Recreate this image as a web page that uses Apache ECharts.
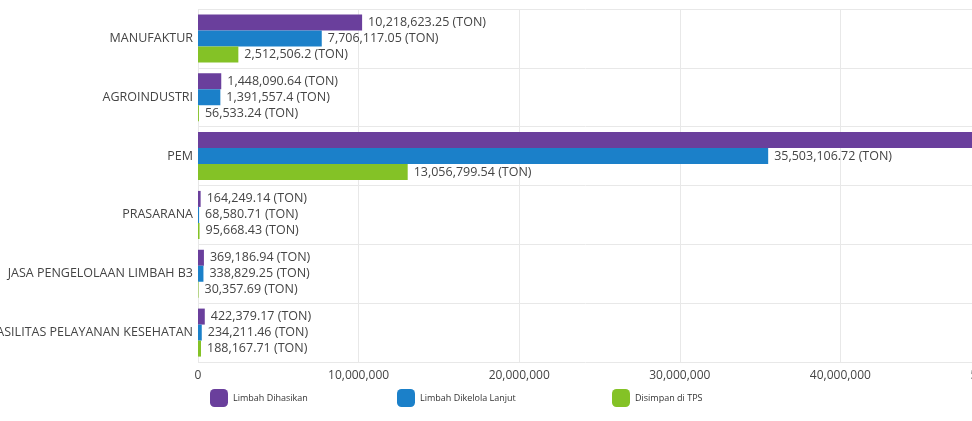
<!doctype html>
<html>
<head>
<meta charset="UTF-8">
<title>Limbah B3</title>
<script src="https://cdn.jsdelivr.net/npm/echarts@6/dist/echarts.min.js"></script>
<style>
  html, body { margin: 0; padding: 0; background: #fff; }
  #main { width: 972px; height: 421px; }
</style>
</head>
<body>
<div id="main"></div>
<script>
// data
var categories = ['MANUFAKTUR', 'AGROINDUSTRI', 'PEM', 'PRASARANA', 'JASA PENGELOLAAN LIMBAH B3', 'FASILITAS PELAYANAN KESEHATAN'];
var limbahDihasilkan = [10218623.25, 1448090.64, 48559906.26, 164249.14, 369186.94, 422379.17];
var limbahDikelola = [7706117.05, 1391557.4, 35503106.72, 68580.71, 338829.25, 234211.46];
var disimpanTps = [2512506.2, 56533.24, 13056799.54, 95668.43, 30357.69, 188167.71];
var seriesNames = ['Limbah Dihasikan', 'Limbah Dikelola Lanjut', 'Disimpan di TPS'];
var colors = ['#6a3f9c', '#1b80c9', '#84c226'];

var font = 'Open Sans';

function fmt(v) {
    return v.toLocaleString('en-US', {maximumFractionDigits: 2}) + ' (TON)';
}

function makeSeries(name, data, color) {
    return {
        name: name,
        type: 'bar',
        data: data,
        barWidth: 16,
        barGap: '0%',
        itemStyle: {color: color},
        label: {
            show: true,
            position: 'right',
            distance: 6,
            color: '#444',
            fontSize: 12.5,
            fontFamily: font,
            formatter: function (p) { return fmt(p.value); }
        }
    };
}

var myChart = echarts.init(document.getElementById('main'));

var legendLeft = [210, 397, 612];

option = {
    animation: false,
    textStyle: {fontFamily: font},
    grid: {left: 198, right: -29, top: 9, bottom: 59, containLabel: false, outerBoundsMode: 'none'},
    legend: seriesNames.map(function (n, i) {
        return {
            data: [n],
            left: legendLeft[i],
            top: 389,
            padding: 0,
            itemWidth: 18,
            itemHeight: 18,
            icon: 'roundRect',
            itemStyle: {borderRadius: 3},
            textStyle: {fontSize: 9, color: '#333', fontFamily: font}
        };
    }),
    xAxis: {
        type: 'value',
        min: 0,
        max: 50000000,
        interval: 10000000,
        axisLine: {show: false},
        axisTick: {show: false},
        splitLine: {lineStyle: {color: '#e8e8e8'}},
        axisLabel: {
            color: '#444',
            fontSize: 12,
            margin: 8,
            formatter: function (v) { return v.toLocaleString('en-US'); }
        }
    },
    yAxis: {
        type: 'category',
        data: categories,
        inverse: true,
        axisLine: {show: false},
        axisTick: {show: false},
        splitLine: {show: true, lineStyle: {color: '#e8e8e8'}},
        axisLabel: {color: '#444', fontSize: 12.5, margin: 5}
    },
    series: [
        makeSeries(seriesNames[0], limbahDihasilkan, colors[0]),
        makeSeries(seriesNames[1], limbahDikelola, colors[1]),
        makeSeries(seriesNames[2], disimpanTps, colors[2])
    ]
};

myChart.setOption(option);
</script>
</body>
</html>
